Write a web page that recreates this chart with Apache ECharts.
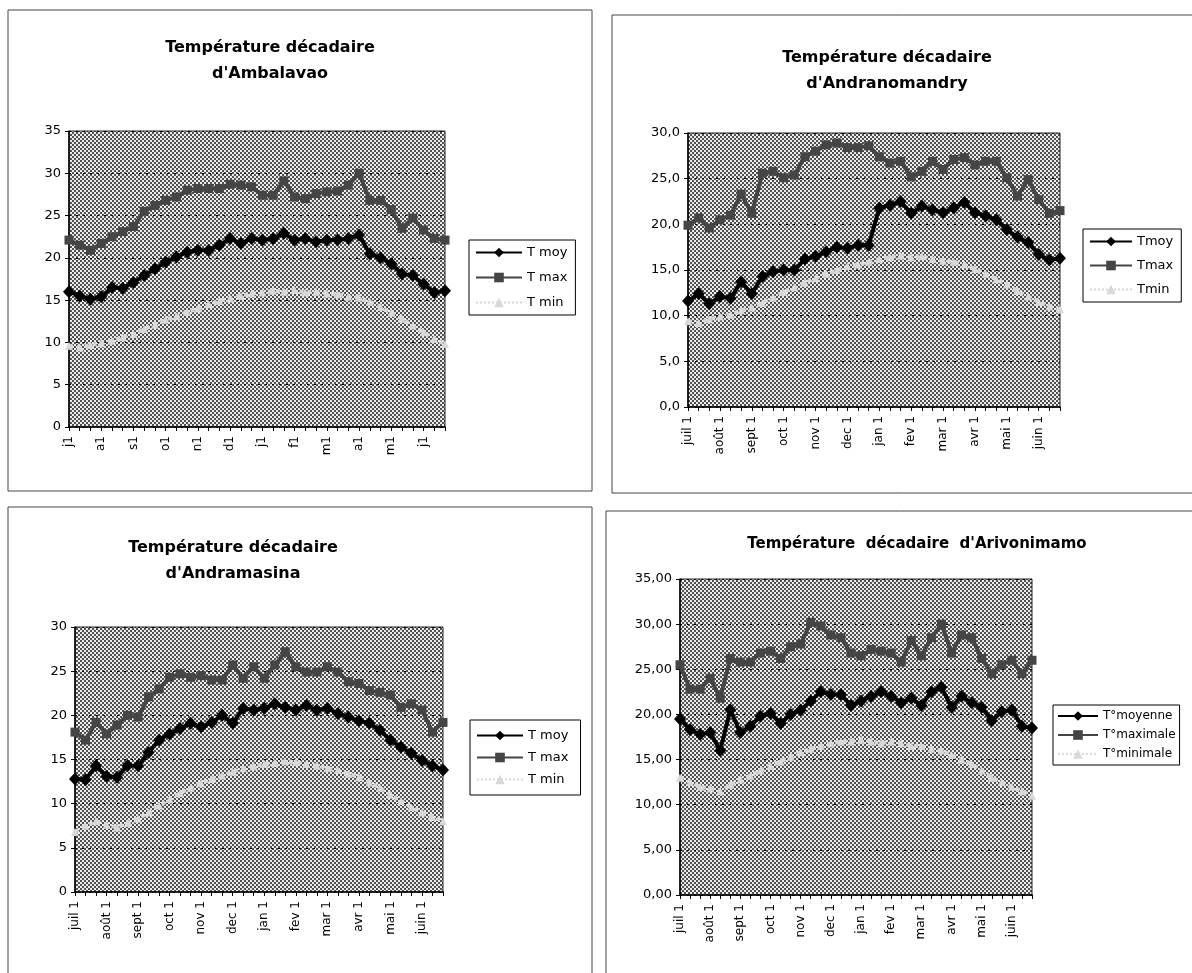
<!DOCTYPE html>
<html>
<head>
<meta charset="utf-8">
<script src="https://cdn.jsdelivr.net/npm/echarts@6/dist/echarts.min.js"></script>
<style>
html,body{margin:0;padding:0;background:#fff;}
#c{width:1192px;height:973px;}
</style>
</head>
<body>
<div id="c"></div>
<script>
// ---------- DATA ----------
const months = ['juil','août','sept','oct','nov','dec','jan','fev','mar','avr','mai','juin'];
const decades = [];
months.forEach(m => { for (let d = 1; d <= 3; d++) decades.push(m + ' ' + d); });

const ticksShort = ['j1','a1','s1','o1','n1','d1','j1','f1','m1','a1','m1','j1'];
const ticksLong = ['juil 1','août 1','sept 1','oct 1','nov 1','dec 1','jan 1','fev 1','mar 1','avr 1','mai 1','juin 1'];

// Ambalavao
const ambMoy = [16.0,15.5,15.1,15.4,16.5,16.4,17.1,17.9,18.7,19.5,20.1,20.7,20.9,20.9,21.5,22.3,21.7,22.3,22.1,22.3,22.9,22.1,22.3,21.9,22.1,22.1,22.3,22.7,20.5,20.0,19.3,18.1,17.9,16.9,15.9,16.1];
const ambMax = [22.1,21.5,20.9,21.7,22.5,23.1,23.7,25.5,26.2,26.8,27.2,28.0,28.2,28.2,28.2,28.7,28.6,28.4,27.4,27.4,29.1,27.2,27.0,27.6,27.8,27.9,28.6,30.0,26.8,26.8,25.7,23.5,24.7,23.3,22.3,22.1];
const ambMin = [9.6,9.4,9.7,9.9,10.2,10.6,11.0,11.6,12.1,12.7,13.1,13.6,14.0,14.5,14.9,15.2,15.5,15.8,15.9,16.1,16.0,16.2,15.9,16.0,15.8,15.7,15.4,15.3,14.8,14.2,13.5,12.8,12.0,11.2,10.4,9.8];

// Andranomandry
const andMoy = [11.6,12.4,11.3,12.1,11.9,13.7,12.4,14.3,14.8,15.0,15.0,16.2,16.5,17.0,17.5,17.4,17.7,17.7,21.8,22.1,22.5,21.2,22.0,21.6,21.3,21.8,22.4,21.3,20.9,20.5,19.4,18.6,18.0,16.7,16.1,16.3];
const andMax = [19.9,20.7,19.6,20.5,21.0,23.3,21.2,25.6,25.8,25.1,25.4,27.4,28.0,28.7,28.9,28.4,28.4,28.6,27.4,26.7,26.9,25.2,25.8,26.9,26.0,27.1,27.3,26.5,26.9,26.9,25.1,23.1,24.9,22.7,21.2,21.5];
const andMin = [9.4,9.2,9.6,9.9,10.1,10.6,10.9,11.4,12.0,12.6,13.1,13.6,14.1,14.6,15.0,15.4,15.6,15.9,16.2,16.4,16.6,16.4,16.5,16.2,16.0,15.9,15.6,15.1,14.6,14.0,13.4,12.7,12.1,11.5,11.0,10.7];

// Andramasina
const amsMoy = [12.8,12.7,14.3,13.1,13.0,14.3,14.3,15.8,17.2,17.9,18.5,19.1,18.7,19.2,20.0,19.1,20.8,20.6,20.8,21.3,20.9,20.6,21.1,20.6,20.8,20.2,19.8,19.4,19.1,18.3,17.2,16.4,15.7,14.9,14.3,13.8];
const amsMax = [18.1,17.2,19.2,17.9,18.9,20.0,19.8,22.1,23.0,24.3,24.7,24.3,24.5,24.0,24.0,25.7,24.2,25.5,24.2,25.7,27.2,25.5,24.9,24.9,25.5,24.9,23.8,23.6,22.8,22.6,22.3,20.9,21.3,20.6,18.1,19.2];
const amsMin = [6.8,7.5,8.0,7.6,7.3,7.8,8.3,9.0,9.8,10.5,11.2,11.8,12.3,12.8,13.2,13.6,14.0,14.2,14.5,14.6,14.8,14.7,14.5,14.3,14.0,13.8,13.4,13.0,12.4,11.8,11.0,10.3,9.6,9.0,8.5,8.0];

// Arivonimamo
const ariMoy = [19.5,18.3,17.8,18.0,16.0,20.5,18.0,18.7,19.8,20.1,19.0,20.0,20.5,21.5,22.5,22.2,22.2,21.0,21.5,22.0,22.5,22.0,21.3,21.8,21.0,22.5,23.0,20.8,22.0,21.3,20.8,19.3,20.3,20.5,18.7,18.5];
const ariMax = [25.5,22.8,22.8,24.0,21.8,26.2,25.8,25.8,26.8,27.0,26.2,27.5,27.8,30.2,29.8,28.8,28.5,26.8,26.5,27.2,27.0,26.8,25.8,28.2,26.5,28.5,30.0,26.8,28.8,28.5,26.2,24.5,25.5,26.0,24.5,26.0];
const ariMin = [13.0,12.5,12.0,11.8,11.5,12.2,12.8,13.2,13.8,14.3,14.8,15.3,15.8,16.2,16.5,16.8,17.0,17.0,17.2,17.0,16.8,17.0,16.8,16.5,16.5,16.2,16.0,15.5,15.0,14.5,13.8,13.0,12.5,12.0,11.5,11.0];

// ---------- STYLE HELPERS ----------
const pat = document.createElement('canvas');
pat.width = 4; pat.height = 4;
(function(){
  const g = pat.getContext('2d');
  g.fillStyle = '#ececec'; g.fillRect(0,0,4,4);
  g.fillStyle = '#505050';
  g.fillRect(0,0,2,2); g.fillRect(2,2,2,2);
})();
const bgPattern = { image: pat, repeat: 'repeat' };

const FONT = 'DejaVu Sans';

function grid(l, t, w, h) {
  return { left: l, top: t, width: w, height: h, show: true,
    backgroundColor: bgPattern, borderColor: '#222', borderWidth: 1 };
}
function xAxis(idx, ticks) {
  return {
    type: 'category', gridIndex: idx, data: decades, boundaryGap: false,
    axisLine: { lineStyle: { color: '#000', width: 1.5 } },
    axisTick: { show: true, interval: 0, length: 4, lineStyle: { color: '#000' } },
    axisLabel: { interval: 2, rotate: 90, color: '#000', fontFamily: FONT, fontSize: 12, margin: 9,
      formatter: (v, i) => ticks[Math.round(i / 3)] },
    splitLine: { show: false }
  };
}
function yAxis(idx, max, digits) {
  return {
    type: 'value', gridIndex: idx, min: 0, max: max, interval: 5,
    axisLine: { show: true, lineStyle: { color: '#000', width: 1.5 } },
    axisTick: { show: true, length: 4, lineStyle: { color: '#000' } },
    axisLabel: { color: '#000', fontFamily: FONT, fontSize: 13, margin: 8,
      formatter: v => digits ? v.toFixed(digits).replace('.', ',') : String(v) },
    splitLine: { show: true, lineStyle: { color: '#000', type: [2, 5], width: 1 } }
  };
}
function sMoy(name, idx, data) {
  return { name, type: 'line', xAxisIndex: idx, yAxisIndex: idx, data,
    showAllSymbol: true, symbol: 'diamond', symbolSize: [12, 13], z: 5,
    lineStyle: { color: '#000', width: 4 }, itemStyle: { color: '#000' } };
}
function sMax(name, idx, data) {
  return { name, type: 'line', xAxisIndex: idx, yAxisIndex: idx, data,
    showAllSymbol: true, symbol: 'rect', symbolSize: 9, z: 4,
    lineStyle: { color: '#454545', width: 4 }, itemStyle: { color: '#454545' } };
}
function sMin(name, idx, data) {
  return { name, type: 'line', xAxisIndex: idx, yAxisIndex: idx, data,
    showAllSymbol: true, symbol: 'triangle', symbolSize: 8, z: 3,
    lineStyle: { color: '#d8d8d8', width: 4, type: 'dotted' }, itemStyle: { color: '#d8d8d8' } };
}
function legend(names, l, t, gap, fs, iw, pad) {
  return { data: names, orient: 'vertical', left: l, top: t, itemGap: gap,
    itemWidth: iw, itemHeight: 12, padding: pad, selectedMode: false,
    borderColor: '#000', borderWidth: 1, backgroundColor: '#fff',
    textStyle: { color: '#000', fontFamily: FONT, fontSize: fs } };
}
function title(text, cx, t, fs, lh) {
  return { text, left: cx, top: t, textAlign: 'center',
    textStyle: { color: '#000', fontFamily: FONT, fontWeight: 'bold', fontSize: fs, lineHeight: lh } };
}
function frame(x, y, w, h) {
  return { type: 'rect', silent: true, z: -10, shape: { x, y, width: w, height: h },
    style: { fill: 'none', stroke: '#444', lineWidth: 1 } };
}

const chart = echarts.init(document.getElementById('c'), null, { renderer: 'canvas' });
chart.setOption({
  animation: false,
  backgroundColor: '#fff',
  graphic: [ frame(8, 10, 584, 481), frame(612, 15, 590, 478), frame(8, 507, 584, 480), frame(606, 511, 596, 480) ],
  title: [
    title('Température décadaire\nd\'Ambalavao', 265, 30, 16, 26),
    title('Température décadaire\nd\'Andranomandry', 882, 40, 16, 26),
    title('Température décadaire\nd\'Andramasina', 228, 530, 16, 26),
    title('Température  décadaire  d\'Arivonimamo', 912, 529, 15, 20)
  ],
  legend: [
    legend(['T moy', 'T max', 'T min'], 469, 240, 12, 13, 46, [6, 8, 6, 6]),
    legend(['Tmoy', 'Tmax', 'Tmin'], 1083, 229, 11, 13, 42, [6, 8, 6, 6]),
    legend(['T moy ', 'T max ', 'T min '], 470, 720, 9, 13, 46, [9, 8, 9, 6]),
    legend(['T°moyenne', 'T°maximale', 'T°minimale'], 1053, 705, 7, 12, 40, [5, 4, 5, 4])
  ],
  grid: [ grid(69, 131, 376, 296), grid(688, 133, 372, 274), grid(75, 627, 368, 265), grid(680, 579, 352, 316) ],
  xAxis: [ xAxis(0, ticksShort), xAxis(1, ticksLong), xAxis(2, ticksLong), xAxis(3, ticksLong) ],
  yAxis: [ yAxis(0, 35, 0), yAxis(1, 30, 1), yAxis(2, 30, 0), yAxis(3, 35, 2) ],
  series: [
    sMoy('T moy', 0, ambMoy), sMax('T max', 0, ambMax), sMin('T min', 0, ambMin),
    sMoy('Tmoy', 1, andMoy), sMax('Tmax', 1, andMax), sMin('Tmin', 1, andMin),
    sMoy('T moy ', 2, amsMoy), sMax('T max ', 2, amsMax), sMin('T min ', 2, amsMin),
    sMoy('T°moyenne', 3, ariMoy), sMax('T°maximale', 3, ariMax), sMin('T°minimale', 3, ariMin)
  ]
});
</script>
</body>
</html>
